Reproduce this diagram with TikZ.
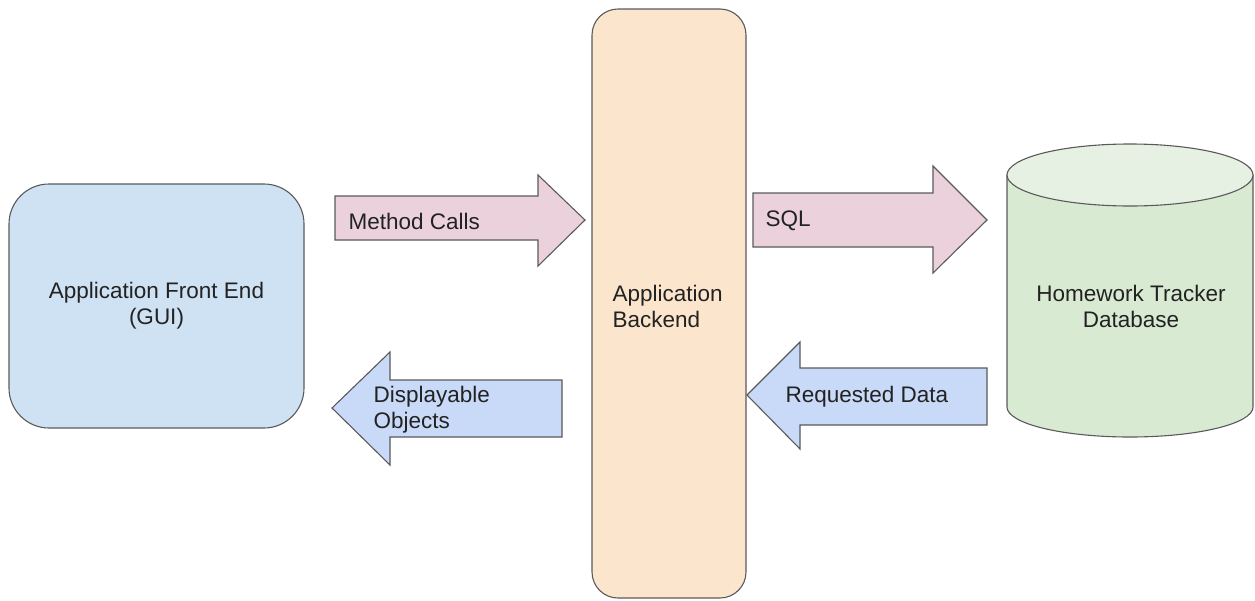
\documentclass[tikz,border=0pt]{standalone}
\usepackage{fontspec}
\setmainfont{Liberation Sans}
\definecolor{edge}{RGB}{90,90,90}
\definecolor{txt}{RGB}{34,34,34}
\definecolor{feblue}{RGB}{207,226,243}
\definecolor{beorange}{RGB}{252,229,205}
\definecolor{pinkar}{RGB}{234,209,220}
\definecolor{bluear}{RGB}{201,218,248}
\definecolor{dbgreen}{RGB}{217,234,211}
\definecolor{dbtop}{RGB}{230,240,227}
\begin{document}
\begin{tikzpicture}[x=1pt,y=1pt,line width=1.1pt,
  lbl/.style={font=\fontsize{22.5}{26}\selectfont, text=txt, inner sep=0pt},
  box/.style={draw=edge, lbl},
  pinkblock/.style={draw=edge, fill=pinkar, line join=miter},
  blueblock/.style={draw=edge, fill=bluear, line join=miter},
  cyl/.style={draw=edge, fill=dbgreen}]
\useasboundingbox (0,0) rectangle (1255,-600);
% front end
\node[box, fill=feblue, rounded corners=40pt, minimum width=295pt, minimum height=244pt, align=center] (fe) at (156.5,-306) {Application Front End\\(GUI)};
% backend
\node[box, fill=beorange, rounded corners=26pt, minimum width=154pt, minimum height=589pt] (be) at (669,-303.5) {};
\node[lbl, align=left, anchor=west] (betext) at (612,-306) {Application\\Backend};
% method calls arrow
\draw[pinkblock] (335,-196) -- (538,-196) -- (538,-175) -- (585,-220) -- (538,-266) -- (538,-240) -- (335,-240) -- cycle;
\node[lbl, anchor=west] (mc) at (348,-221) {Method Calls};
% SQL arrow
\draw[pinkblock] (753,-193) -- (933,-193) -- (933,-166) -- (987,-220) -- (933,-273) -- (933,-247) -- (753,-247) -- cycle;
\node[lbl, anchor=west] (sql) at (765,-221) {SQL};
% displayable objects arrow
\draw[blueblock] (562,-380) -- (390,-380) -- (390,-352) -- (332,-408) -- (390,-465) -- (390,-437) -- (562,-437) -- cycle;
\node[lbl, anchor=west, align=left] (disp) at (373,-410) {Displayable\\Objects};
% requested data arrow
\draw[blueblock] (987,-368) -- (800,-368) -- (800,-342) -- (747,-395) -- (800,-449) -- (800,-425) -- (987,-425) -- cycle;
\node[lbl, anchor=west] (req) at (785,-397) {Requested Data};
% database cylinder
\coordinate (tl) at (1007,-175);
\coordinate (bl) at (1007,-407);
\coordinate (tc) at (1130,-175);
\draw[cyl] (tl) -- (bl) arc[start angle=180, end angle=360, x radius=123pt, y radius=30pt] -- (1253,-175) -- cycle;
\draw[draw=edge, fill=dbtop] (tc) ellipse[x radius=123pt, y radius=31pt];
\node[lbl, align=center] (db) at (1131,-306) {Homework Tracker\\Database};
\end{tikzpicture}
\end{document}
